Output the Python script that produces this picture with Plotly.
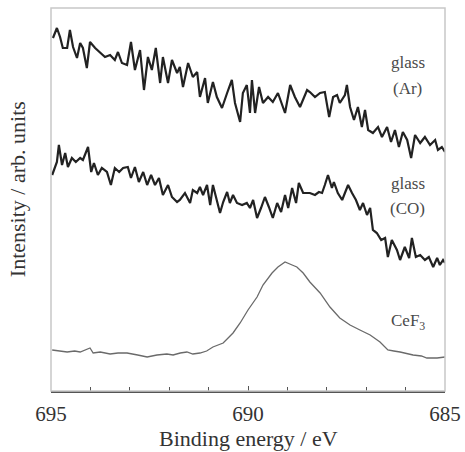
import plotly.graph_objects as go

# ---- data (binding energy in eV, intensity in arb. units) ----
ar_energy = [694.95,694.85,694.77,694.70,694.59,694.52,694.44,694.34,694.26,694.19,694.09,694.01,693.88,693.76,693.63,693.50,693.38,693.30,693.20,693.07,692.97,692.87,692.74,692.64,692.54,692.44,692.34,692.23,692.16,692.03,691.93,691.80,
             691.73,691.65,691.52,691.40,691.29,691.22,691.09,691.02,690.89,690.79,690.66,690.53,690.41,690.33,690.20,690.13,690.03,689.95,689.90,689.82,689.72,689.62,689.49,689.37,689.24,689.06,688.93,688.81,688.68,688.50,
             688.43,688.30,688.17,688.05,687.94,687.84,687.74,687.67,687.54,687.49,687.41,687.31,687.21,687.11,687.03,686.95,686.83,686.70,686.60,686.47,686.37,686.27,686.17,686.07,685.96,685.86,685.76,685.63,685.51,685.38,685.25,685.18,685.08,685.00]
ar_intensity = [353,363,354,343,343,361,344,333,348,343,323,349,343,339,334,336,331,339,328,326,349,321,341,301,334,321,343,308,334,308,331,318,
                324,304,328,314,319,294,313,288,309,294,283,298,311,288,269,298,306,278,311,278,304,288,294,289,298,278,306,294,284,301,
                299,294,298,299,274,294,296,288,296,306,284,271,284,264,281,261,258,264,254,264,249,261,244,259,251,233,256,248,254,246,251,241,244,239]

co_energy = [694.97,694.85,694.80,694.72,694.64,694.57,694.47,694.37,694.26,694.19,694.06,693.98,693.91,693.81,693.71,693.58,693.48,693.38,693.27,693.17,693.05,692.97,692.87,692.77,692.66,692.56,692.46,692.36,692.26,692.16,692.03,691.93,691.80,
             691.73,691.60,691.47,691.40,691.29,691.22,691.14,691.04,690.96,690.89,690.79,690.71,690.63,690.53,690.46,690.38,690.28,690.15,690.03,689.95,689.87,689.77,689.67,689.57,689.47,689.37,689.26,689.16,689.06,688.98,688.88,688.78,688.71,688.60,
             688.43,688.30,688.20,688.12,688.05,687.97,687.87,687.82,687.72,687.61,687.54,687.46,687.36,687.26,687.16,687.08,686.98,686.90,686.83,686.73,686.62,686.52,686.45,686.35,686.22,686.14,686.02,685.91,685.84,685.74,685.63,685.51,685.41,685.30,685.20,685.13,685.05,685.00]
co_intensity = [216,229,246,226,238,224,233,229,233,231,244,219,228,216,223,219,206,223,219,223,224,213,224,209,219,206,216,206,213,196,206,194,189,
                191,198,188,201,198,204,196,206,186,206,191,178,189,199,188,196,188,186,188,183,191,173,183,194,184,173,188,179,196,183,203,188,208,198,
                198,196,199,198,206,216,203,209,198,191,198,206,198,191,181,188,176,183,161,158,151,153,134,151,141,131,144,133,153,134,136,131,134,124,133,126,131,128]

cef3_energy = [694.97,694.80,694.59,694.40,694.26,694.01,693.93,693.75,693.50,693.30,693.07,692.80,692.56,692.31,692.06,691.90,691.72,691.55,691.40,691.22,691.05,690.89,690.63,690.38,690.20,690.00,689.77,689.62,689.39,689.24,689.06,688.88,688.76,688.60,688.43,688.17,687.92,687.67,687.41,687.16,686.90,686.65,686.45,686.30,686.14,685.81,685.60,685.46,685.20,685.00]
cef3_intensity = [41,40,39,40,39,43,38,39,37,38,38,36,34,36,37,36,38,39,37,38,40,44,48,58,68,81,94,106,118,124,129,126,124,118,109,98,84,73,66,61,56,49,41,40,39,36,35,33,33,34]

labels = ["glass", "(Ar)", "glass", "(CO)", "CeF<sub>3</sub>"]
label_energy = [685.94, 685.94, 685.94, 685.94, 685.94]
label_intensity = [329, 303, 208, 183, 69]

serif = "Liberation Serif"

fig = go.Figure()
fig.add_trace(go.Scatter(x=ar_energy, y=ar_intensity, mode="lines",
                         line=dict(color="#222222", width=2.2), showlegend=False))
fig.add_trace(go.Scatter(x=co_energy, y=co_intensity, mode="lines",
                         line=dict(color="#222222", width=2.2), showlegend=False))
fig.add_trace(go.Scatter(x=cef3_energy, y=cef3_intensity, mode="lines",
                         line=dict(color="#6a6a6a", width=1.3), showlegend=False))

for t, xe, yi in zip(labels, label_energy, label_intensity):
    fig.add_annotation(x=xe, y=yi, text=t, showarrow=False,
                       xanchor="center", yanchor="middle",
                       font=dict(family=serif, size=17, color="#4a4a4a"))

# frame (light gray) on top / left / right
fig.add_shape(type="rect", xref="paper", yref="paper", x0=0, x1=1, y0=0, y1=1,
              line=dict(color="#c8c8c8", width=1.5), layer="above")

fig.add_annotation(xref="paper", yref="paper", x=0.5, y=0, yshift=-47,
                   xanchor="center", yanchor="middle",
                   text="Binding energy / eV", showarrow=False,
                   font=dict(family=serif, size=22, color="#333333"))
fig.add_annotation(xref="paper", yref="paper", x=0, y=0.527, xshift=-34,
                   xanchor="center", yanchor="middle",
                   text="Intensity / arb. units", showarrow=False, textangle=-90,
                   font=dict(family=serif, size=22, color="#333333"))

fig.update_layout(
    width=465, height=452,
    margin=dict(l=51, r=20, t=8, b=61, autoexpand=False),
    paper_bgcolor="white", plot_bgcolor="white",
    font=dict(family=serif, color="#333333"),
    xaxis=dict(range=[695, 685], tickvals=[695, 690, 685], ticks="inside",
               ticklen=5, tickcolor="#555555", tickwidth=1,
               minor=dict(dtick=1, ticks="inside", ticklen=4, tickcolor="#555555"),
               showline=True, linecolor="#555555", linewidth=1.5,
               showgrid=False, zeroline=False, ticklabelstandoff=3,
               automargin=False,
               tickfont=dict(family=serif, size=21, color="#333333")),
    yaxis=dict(range=[0, 383], showticklabels=False, ticks="",
               showgrid=False, zeroline=False, showline=False, automargin=False),
)

fig.write_html("out.html", config={"displayModeBar": False},
               post_script="document.body.style.margin='0';")
